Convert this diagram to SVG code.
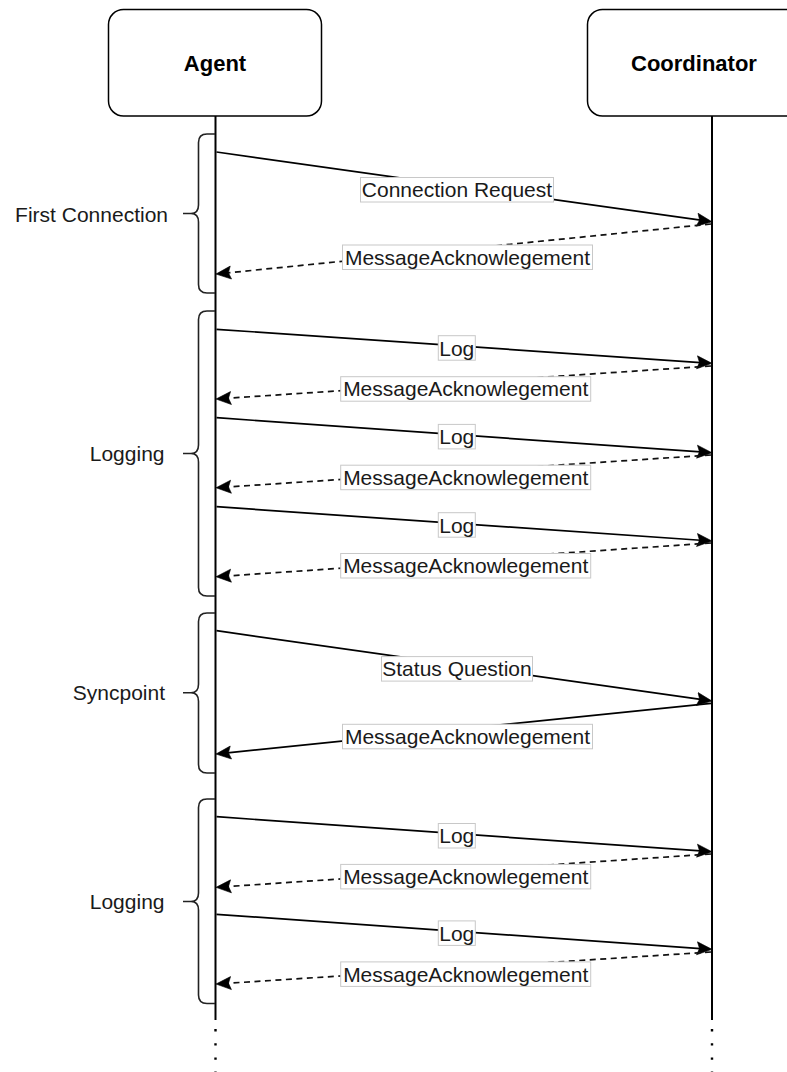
<svg xmlns="http://www.w3.org/2000/svg" width="787" height="1072" viewBox="0 0 787 1072">
<defs>
<style>
.box{fill:#fff;stroke:#000;stroke-width:1.5}
.title{font-family:"Liberation Sans",Arial,sans-serif;font-weight:bold;font-size:22px;fill:#000;text-anchor:middle}
.life{stroke:#000;stroke-width:2;fill:none}
.dots{stroke:#000;stroke-width:2.4;fill:none;stroke-dasharray:2.4 11.8}
.msg{stroke:#000;stroke-width:1.7;fill:none;marker-end:url(#arr)}
.ret{stroke:#111;stroke-width:1.7;fill:none;stroke-dasharray:6 4.5;marker-end:url(#arr)}
.lblbg{fill:#fff;stroke:#c8c8c8;stroke-width:1}
.lbl{font-family:"Liberation Sans",Arial,sans-serif;font-size:21px;fill:#1a1a1a;text-anchor:middle}
.brace{stroke:#222;stroke-width:1.6;fill:none}
.grp{font-family:"Liberation Sans",Arial,sans-serif;font-size:21px;fill:#1a1a1a;text-anchor:end}
</style>
<marker id="arr" markerUnits="userSpaceOnUse" markerWidth="16" markerHeight="15" viewBox="0 0 16 15" refX="4" refY="7.5" orient="auto">
<path d="M0.5,1 L15.5,7.5 L0.5,14 L3,7.5 Z" fill="#000" stroke="#000" stroke-width="0.6" stroke-linejoin="miter"/>
</marker>
</defs>
<rect width="787" height="1072" fill="#fff"/>

<g id="agent">
<rect class="box" x="108.5" y="9.5" width="213" height="106.5" rx="15"/>
<text class="title" x="215" y="71">Agent</text>
<line class="life" x1="215.5" y1="116" x2="215.5" y2="1020"/>
<line class="dots" x1="215.5" y1="1029" x2="215.5" y2="1072"/>
</g>

<g id="coordinator">
<rect class="box" x="587.5" y="9.5" width="213" height="106.5" rx="15"/>
<text class="title" x="694" y="71">Coordinator</text>
<line class="life" x1="712" y1="116" x2="712" y2="1020"/>
<line class="dots" x1="712" y1="1029" x2="712" y2="1072"/>
</g>

<g id="phase-first-connection">
<path class="brace" d="M215,134 L207,134 Q198.5,134 198.5,142.5 L198.5,205 Q198.5,213.5 191,213.5 L183,213.5 M191,213.5 Q198.5,213.5 198.5,222 L198.5,284.5 Q198.5,293 207,293 L215,293"/>
<text class="grp" x="168" y="221.5">First Connection</text>
</g>

<g id="phase-logging-1">
<path class="brace" d="M215,311 L207,311 Q198.5,311 198.5,319.5 L198.5,445 Q198.5,453.5 191,453.5 L183,453.5 M191,453.5 Q198.5,453.5 198.5,462 L198.5,587.5 Q198.5,596 207,596 L215,596"/>
<text class="grp" x="164.5" y="461">Logging</text>
</g>

<g id="phase-syncpoint">
<path class="brace" d="M215,613 L207,613 Q198.5,613 198.5,621.5 L198.5,684.2 Q198.5,692.7 191,692.7 L183,692.7 M191,692.7 Q198.5,692.7 198.5,701.2 L198.5,764.5 Q198.5,773 207,773 L215,773"/>
<text class="grp" x="165" y="700.2">Syncpoint</text>
</g>

<g id="phase-logging-2">
<path class="brace" d="M215,799 L207,799 Q198.5,799 198.5,807.5 L198.5,893 Q198.5,901.5 191,901.5 L183,901.5 M191,901.5 Q198.5,901.5 198.5,910 L198.5,995 Q198.5,1003.5 207,1003.5 L215,1003.5"/>
<text class="grp" x="164.5" y="909">Logging</text>
</g>

<g id="connectors">
<line class="msg" x1="216.5" y1="152" x2="700.6" y2="220.2"/>
<line class="ret" x1="711" y1="224" x2="227.4" y2="272.9"/>
<line class="msg" x1="216.5" y1="329.3" x2="700.5" y2="362.55"/>
<line class="ret" x1="711" y1="366" x2="227.5" y2="398.27"/>
<line class="msg" x1="216.5" y1="417.7" x2="700.5" y2="451.93"/>
<line class="ret" x1="711" y1="455" x2="227.5" y2="486.98"/>
<line class="msg" x1="216.5" y1="506.7" x2="700.5" y2="540.24"/>
<line class="ret" x1="711" y1="543" x2="227.5" y2="575.95"/>
<line class="msg" x1="216.5" y1="630.7" x2="700.6" y2="699.45"/>
<line class="msg" x1="711" y1="703.3" x2="227.4" y2="752.88"/>
<line class="msg" x1="216.5" y1="816.7" x2="700.5" y2="850.93"/>
<line class="ret" x1="711" y1="854" x2="227.5" y2="886.56"/>
<line class="msg" x1="216.5" y1="914.3" x2="700.5" y2="948.53"/>
<line class="ret" x1="711" y1="952" x2="227.5" y2="983.29"/>
</g>

<g id="labels">
<rect class="lblbg" x="360.5" y="177.5" width="193" height="24.5"/>
<text class="lbl" x="457" y="197.3">Connection Request</text>
<rect class="lblbg" x="342.5" y="245" width="250" height="24.5"/>
<text class="lbl" x="467.5" y="264.7">MessageAcknowlegement</text>

<rect class="lblbg" x="438.3" y="335.7" width="37" height="24.5"/>
<text class="lbl" x="456.8" y="355.5">Log</text>
<rect class="lblbg" x="340.7" y="376.7" width="250" height="24.5"/>
<text class="lbl" x="465.7" y="396.4">MessageAcknowlegement</text>
<rect class="lblbg" x="438.3" y="424.4" width="37" height="24.5"/>
<text class="lbl" x="456.8" y="444.2">Log</text>
<rect class="lblbg" x="340.7" y="465.2" width="250" height="24.5"/>
<text class="lbl" x="465.7" y="485">MessageAcknowlegement</text>
<rect class="lblbg" x="438.3" y="512.7" width="37" height="24.5"/>
<text class="lbl" x="456.8" y="532.5">Log</text>
<rect class="lblbg" x="340.7" y="553.5" width="250" height="24.5"/>
<text class="lbl" x="465.7" y="573.3">MessageAcknowlegement</text>

<rect class="lblbg" x="381.5" y="656.6" width="151" height="24.5"/>
<text class="lbl" x="457" y="676.3">Status Question</text>
<rect class="lblbg" x="342.5" y="724.3" width="250" height="24.5"/>
<text class="lbl" x="467.5" y="744">MessageAcknowlegement</text>

<rect class="lblbg" x="438.3" y="823.5" width="37" height="24.5"/>
<text class="lbl" x="456.8" y="843.3">Log</text>
<rect class="lblbg" x="340.7" y="864.4" width="250" height="24.5"/>
<text class="lbl" x="465.7" y="884.2">MessageAcknowlegement</text>
<rect class="lblbg" x="438.3" y="920.9" width="37" height="24.5"/>
<text class="lbl" x="456.8" y="940.7">Log</text>
<rect class="lblbg" x="340.7" y="961.9" width="250" height="24.5"/>
<text class="lbl" x="465.7" y="981.7">MessageAcknowlegement</text>
</g>
</svg>
